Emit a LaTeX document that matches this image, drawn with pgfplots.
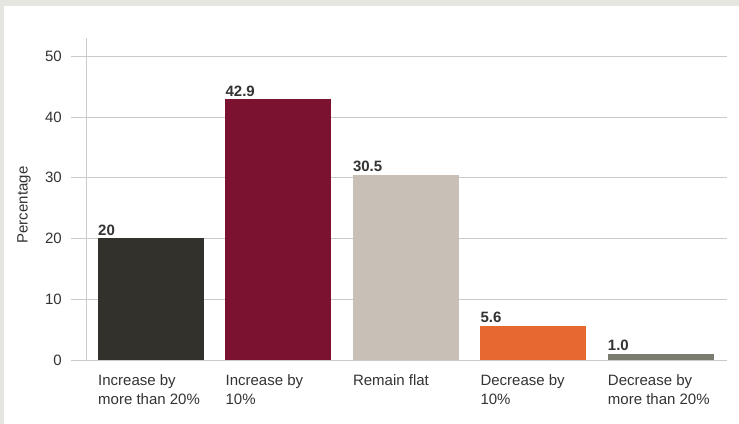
\documentclass[border=0pt]{standalone}
\usepackage{pgfplots}
\pgfplotsset{compat=1.18}
\usepackage{fontspec}
\setmainfont{Liberation Sans}
\definecolor{framegray}{HTML}{E6E6E1}
\definecolor{gridgray}{HTML}{CACACA}
\definecolor{txt}{HTML}{333333}
\definecolor{cA}{HTML}{33312B}
\definecolor{cB}{HTML}{7A1230}
\definecolor{cC}{HTML}{C8C0B7}
\definecolor{cD}{HTML}{E8692F}
\definecolor{cE}{HTML}{797C6F}
\begin{document}
\begin{tikzpicture}
\fill[framegray] (0,0) rectangle (739bp,424bp);
\fill[white] (4bp,0) rectangle (739bp,418bp);
\begin{axis}[
  at={(86bp,64bp)}, anchor=south west,
  scale only axis, width=641bp, height=322bp,
  xmin=-0.51, xmax=4.52, ymin=0, ymax=53,
  enlargelimits=false,
  axis lines=left,
  axis line style={draw=gridgray, line width=0.8bp, -},
  ymajorgrids, grid style={draw=gridgray, line width=0.8bp},
  ytick={0,10,20,30,40,50},
  xtick={0,1,2,3,4},
  xticklabels={{Increase by\\more than 20\%},{Increase by\\10\%},{Remain flat},{Decrease by\\10\%},{Decrease by\\more than 20\%}},
  tick align=outside,
  major tick length=15bp,
  ytick style={draw=gridgray, line width=0.8bp},
  xtick style={draw=none},
  /pgf/number format/assume math mode=true,
  ticklabel style={font=\fontsize{15bp}{19bp}\selectfont, text=txt},
  yticklabel style={anchor=east, inner sep=0pt, xshift=-9bp},
  xticklabel style={anchor=north west, align=left, inner sep=0pt, xshift=-53bp, yshift=1bp},
  ylabel={Percentage},
  ylabel style={at={(axis description cs:-0.0967,0.4814)}, anchor=center, font=\fontsize{15bp}{19bp}\selectfont, text=txt},
  ybar, bar width=106bp, bar shift=0pt,
  point meta=explicit symbolic,
  nodes near coords,
  nodes near coords style={anchor=south west, inner sep=0pt, xshift=-53bp, yshift=3bp, font=\fontsize{15bp}{19bp}\selectfont\bfseries, text=txt},
  clip=false,
]
\addplot[fill=cA, draw=none] coordinates {(0,20) [20]};
\addplot[fill=cB, draw=none] coordinates {(1,42.9) [42.9]};
\addplot[fill=cC, draw=none] coordinates {(2,30.5) [30.5]};
\addplot[fill=cD, draw=none] coordinates {(3,5.6) [5.6]};
\addplot[fill=cE, draw=none] coordinates {(4,1.0) [1.0]};
\end{axis}
\pgfresetboundingbox
\useasboundingbox (0,0) rectangle (739bp,424bp);
\end{tikzpicture}
\end{document}
